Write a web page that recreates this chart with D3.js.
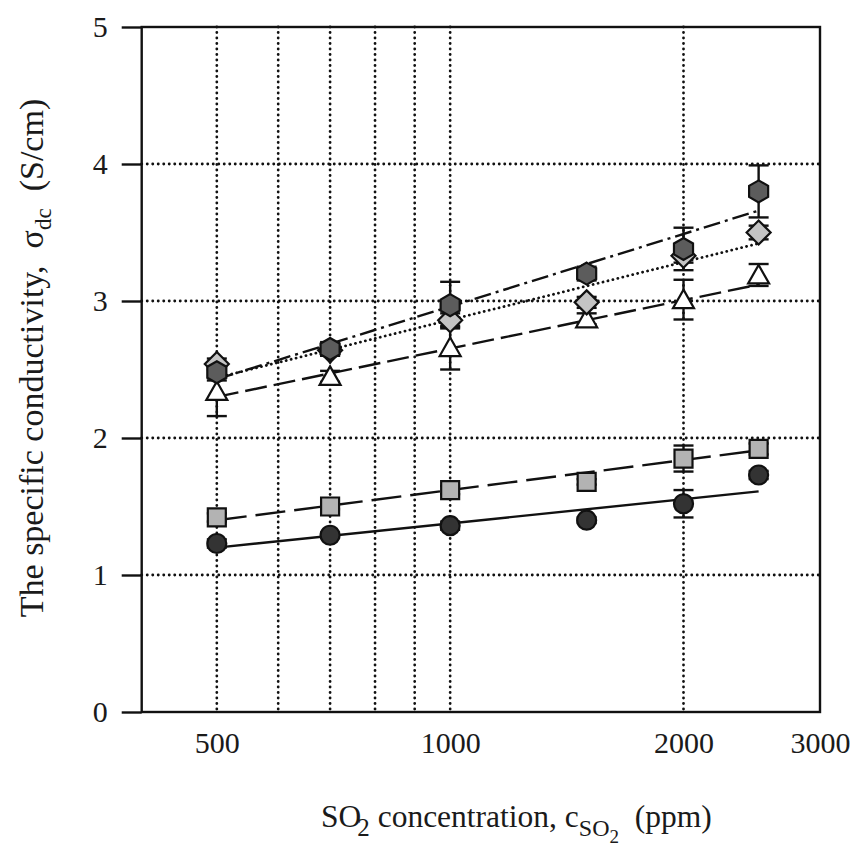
<!DOCTYPE html>
<html>

<head>
  <title>Specific conductivity vs SO2 concentration</title>
  <style>
    body { margin: 0; background: #fff; }
    text { font-family: "Liberation Serif", "Times New Roman", serif; fill: #1a1a1a; white-space: pre; }
  </style>
</head>

<body>
  <svg id="main" width="855" height="856"></svg>

  <script src="https://cdn.jsdelivr.net/npm/d3@7.0.1/dist/d3.min.js"></script>
  <script>
    // x values (ppm) and read-off sigma values per series
    const concentrations = [500, 700, 1000, 1500, 2000, 2500]

    const hexValues = [2.48, 2.65, 2.97, 3.20, 3.38, 3.80]
    const hexErrors = [0.06, 0.05, 0.17, 0.05, 0.155, 0.19]

    const diamondValues = [2.54, 2.64, 2.86, 2.99, 3.33, 3.50]
    const diamondErrors = [0.04, 0.04, 0.05, 0.04, 0.05, 0.05]

    const triangleValues = [2.34, 2.45, 2.66, 2.87, 3.01, 3.19]
    const triangleErrors = [0.18, 0.04, 0.16, 0.04, 0.145, 0.08]

    const squareValues = [1.42, 1.50, 1.62, 1.68, 1.85, 1.92]
    const squareErrors = [0.03, 0.02, 0.03, 0.02, 0.095, 0.04]

    const circleValues = [1.23, 1.29, 1.36, 1.40, 1.52, 1.73]
    const circleErrors = [0.03, 0.02, 0.03, 0.02, 0.10, 0.03]

    // fitted lines: value at 500 ppm and at 2500 ppm
    const fitX = [500, 2500]
    const hexFit = [2.43, 3.66]
    const diamondFit = [2.44, 3.42]
    const triangleFit = [2.30, 3.12]
    const squareFit = [1.40, 1.91]
    const circleFit = [1.20, 1.61]

    const xTicks = [500, 1000, 2000, 3000]
    const xGrid = [500, 600, 700, 800, 900, 1000, 2000]
    const yTicks = [0, 1, 2, 3, 4, 5]
    const yGrid = [1, 2, 3, 4]

    const svg = d3.select('#main')
    const margin = { top: 27, right: 35, bottom: 144, left: 141.7 }
    const width = +svg.attr('width')
    const height = +svg.attr('height')
    const innerWidth = width - margin.left - margin.right
    const innerHeight = height - margin.top - margin.bottom

    const g = svg.append('g')
      .attr('transform', `translate(${margin.left}, ${margin.top})`)

    const xScale = d3.scaleLog().domain([400, 3000]).range([0, innerWidth])
    const yScale = d3.scaleLinear().domain([0, 5]).range([innerHeight, 0])

    // dotted grid
    const gridStyle = sel => sel.attr('stroke', '#111').attr('stroke-width', 2.8)
      .attr('stroke-dasharray', '0.1,5.4').attr('stroke-linecap', 'round')

    g.selectAll('.vgrid').data(xGrid).join('line')
      .attr('class', 'vgrid')
      .attr('x1', d => xScale(d)).attr('x2', d => xScale(d))
      .attr('y1', 0).attr('y2', innerHeight)
      .call(gridStyle)

    g.selectAll('.hgrid').data(yGrid).join('line')
      .attr('class', 'hgrid')
      .attr('x1', 0).attr('x2', innerWidth)
      .attr('y1', d => yScale(d)).attr('y2', d => yScale(d))
      .call(gridStyle)

    // axes
    const yAxis = d3.axisLeft(yScale).tickValues(yTicks).tickSize(20).tickSizeOuter(0).tickPadding(14)
      .tickFormat(d3.format('d'))
    const xAxis = d3.axisBottom(xScale).tickValues(xTicks).tickSize(0).tickSizeOuter(0).tickPadding(20)
      .tickFormat(d3.format('d'))

    const yg = g.append('g').call(yAxis)
    const xg = g.append('g').attr('transform', `translate(0, ${innerHeight})`).call(xAxis)
    yg.select('.domain').remove()
    xg.select('.domain').remove()
    yg.selectAll('.tick line').attr('stroke', '#111').attr('stroke-width', 2.4)
    g.selectAll('.tick text').attr('font-size', '30px').attr('fill', '#1a1a1a')

    // frame
    g.append('rect').attr('width', innerWidth).attr('height', innerHeight)
      .attr('fill', 'none').attr('stroke', '#111').attr('stroke-width', 2.4)

    // marker shapes
    const hexPath = r => d3.range(6).map(i => {
      const a = Math.PI / 180 * (60 * i - 90)
      return [r * Math.cos(a), r * Math.sin(a)]
    })
    const polygon = pts => 'M' + pts.map(p => p.join(',')).join('L') + 'Z'

    const series = [
      { values: circleValues, errors: circleErrors, fit: circleFit, dash: null, dotted: false, fill: '#333',
        shape: d3.symbol(d3.symbolCircle, Math.PI * 9.5 * 9.5)() },
      { values: squareValues, errors: squareErrors, fit: squareFit, dash: '30,9', dotted: false, fill: '#b3b3b3',
        shape: polygon([[-9, -9], [9, -9], [9, 9], [-9, 9]]) },
      { values: triangleValues, errors: triangleErrors, fit: triangleFit, dash: '22,7', dotted: false, fill: '#fff',
        shape: polygon([[0, -10], [10.5, 8.5], [-10.5, 8.5]]) },
      { values: diamondValues, errors: diamondErrors, fit: diamondFit, dash: '0.1,5', dotted: true, fill: '#c4c4c4',
        shape: polygon([[0, -12], [12, 0], [0, 12], [-12, 0]]) },
      { values: hexValues, errors: hexErrors, fit: hexFit, dash: '17,5,3,5', dotted: false, fill: '#5c5c5c',
        shape: polygon(hexPath(11)) }
    ]

    const line = d3.line().x(d => xScale(d[0])).y(d => yScale(d[1]))

    // fit lines
    g.selectAll('.fit').data(series).join('path')
      .attr('class', 'fit')
      .attr('d', s => line(fitX.map((x, i) => [x, s.fit[i]])))
      .attr('fill', 'none').attr('stroke', '#111')
      .attr('stroke-width', s => s.dotted ? 2.8 : 2.4)
      .attr('stroke-linecap', s => s.dotted ? 'round' : 'butt')
      .attr('stroke-dasharray', s => s.dash)

    // error bars
    series.forEach(s => {
      const pts = concentrations.map((c, i) => ({ c, v: s.values[i], e: s.errors[i] }))
      const eb = g.append('g').attr('stroke', '#111').attr('stroke-width', 2.4)
      eb.selectAll('.stem').data(pts).join('line')
        .attr('x1', d => xScale(d.c)).attr('x2', d => xScale(d.c))
        .attr('y1', d => yScale(d.v - d.e)).attr('y2', d => yScale(d.v + d.e))
      eb.selectAll('.cap').data(pts.flatMap(d => [d.v - d.e, d.v + d.e].map(y => ({ c: d.c, y }))))
        .join('line')
        .attr('x1', d => xScale(d.c) - 10).attr('x2', d => xScale(d.c) + 10)
        .attr('y1', d => yScale(d.y)).attr('y2', d => yScale(d.y))
    })

    // markers
    series.forEach(s => {
      g.append('g').selectAll('path').data(concentrations.map((c, i) => ({ c, v: s.values[i] })))
        .join('path')
        .attr('d', s.shape)
        .attr('transform', d => `translate(${xScale(d.c)}, ${yScale(d.v)})`)
        .attr('fill', s.fill).attr('stroke', '#111').attr('stroke-width', 2.2)
    })

    // axis titles
    const xt = svg.append('text').attr('x', 321).attr('y', 827).attr('font-size', '31.5px')
    xt.append('tspan').text('SO')
    xt.append('tspan').text('2').attr('font-size', '25px').attr('dx', -4).attr('dy', 9)
    xt.append('tspan').text(' concentration, c').attr('dy', -9)
    xt.append('tspan').text('SO').attr('font-size', '24px').attr('dy', 9)
    xt.append('tspan').text('2').attr('font-size', '19px').attr('dy', 7)
    xt.append('tspan').text('  (ppm)').attr('dy', -16)

    const yt = svg.append('text').attr('transform', 'translate(43, 358) rotate(-90)')
      .attr('text-anchor', 'middle').attr('font-size', '34px')
    yt.append('tspan').text('The specific conductivity,  σ')
    yt.append('tspan').text('dc').attr('font-size', '23px').attr('dy', 8)
    yt.append('tspan').text('  (S/cm)').attr('dy', -8)
  </script>
</body>

</html>
